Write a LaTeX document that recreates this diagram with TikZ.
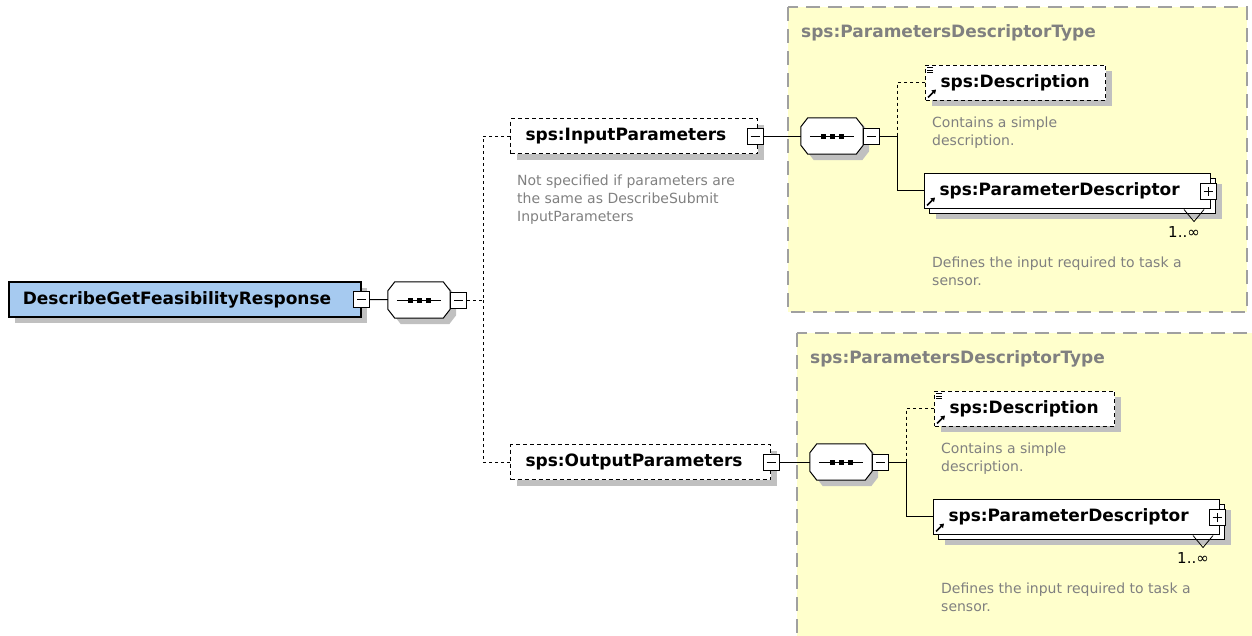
\documentclass[tikz,border=0pt]{standalone}
\usepackage{fontspec}
\setmainfont{DejaVu Sans}
\usepackage{xcolor}
\usetikzlibrary{arrows.meta, positioning, shadows, calc}

\definecolor{rootblue}{RGB}{166,202,240}
\definecolor{groupfill}{RGB}{255,255,204}
\definecolor{groupline}{RGB}{160,160,160}
\definecolor{shadowgray}{RGB}{192,192,192}
\definecolor{notegray}{RGB}{128,128,128}

% small marks inside an element box
\newcommand{\refmark}[1]{%
    \draw[line width=1.6pt, -{Triangle[length=4pt, width=5pt]}]
        ([xshift=3pt, yshift=3pt]#1.south west) -- ++(8,-8);}
\newcommand{\docmark}[1]{%
    \foreach \k in {0,2.5,5}{
        \draw[line width=0.7pt] ([xshift=2pt, yshift={-3pt-\k pt}]#1.north west) -- ++(6,0);
    }}
% octagon of a sequence compositor
\newcommand{\octpath}[1]{([xshift=7pt]#1.north west) -- ([xshift=-7pt]#1.north east)
    -- ([yshift=-9pt]#1.north east) -- ([yshift=9pt]#1.south east)
    -- ([xshift=-7pt]#1.south east) -- ([xshift=7pt]#1.south west)
    -- ([yshift=9pt]#1.south west) -- ([yshift=-9pt]#1.north west) -- cycle}
\newcommand{\seqshape}[1]{%
    \fill[shadowgray, transform canvas={shift={(6pt,-6pt)}}] \octpath{#1};
    \draw[line width=1pt, fill=white] \octpath{#1};
    \draw[line width=1pt] ([xshift=9pt]#1.west) -- ([xshift=-9pt]#1.east);
    \foreach \d in {-9,0,9}{
        \fill[black] ([xshift=\d pt]#1.center) +(-2.5,-2.5) rectangle +(2.5,2.5);
    }}

\begin{document}
\begin{tikzpicture}[
        x=1pt, y=-1pt,
        >=Stealth,
        boxbase/.style={draw, line width=1pt, fill=white, anchor=west, align=left,
            font=\bfseries\fontsize{17}{20}\selectfont,
            minimum height=35pt, inner xsep=15pt, inner ysep=0pt},
        elem/.style={boxbase,
            drop shadow={shadow xshift=6pt, shadow yshift=-6pt, fill=shadowgray, opacity=1}},
        optelem/.style={elem, dash pattern=on 4pt off 3pt},
        rootelem/.style={elem, fill=rootblue, line width=1.6pt, inner xsep=14pt},
        multielem/.style={boxbase,
            drop shadow={shadow xshift=11pt, shadow yshift=-11pt, fill=shadowgray, opacity=1},
            copy shadow={shadow xshift=5pt, shadow yshift=-5pt}},
        seqnode/.style={rectangle, minimum width=62pt, minimum height=36pt, inner sep=0pt},
        toggle/.style={draw, line width=1pt, fill=white, minimum size=16pt, inner sep=0pt},
        minus/.style={toggle,
            path picture={\draw[line width=1pt] ([xshift=3.5pt]path picture bounding box.west) -- ([xshift=-3.5pt]path picture bounding box.east);}},
        plus/.style={toggle,
            path picture={\draw[line width=1pt] ([xshift=3.5pt]path picture bounding box.west) -- ([xshift=-3.5pt]path picture bounding box.east);
                \draw[line width=1pt] ([yshift=3.5pt]path picture bounding box.south) -- ([yshift=-3.5pt]path picture bounding box.north);}},
        link/.style={line width=1pt},
        optlink/.style={line width=1pt, dash pattern=on 3pt off 3pt},
        note/.style={anchor=north west, inner sep=0pt, align=left, text=notegray,
            font=\fontsize{14}{18}\selectfont},
        count/.style={anchor=base east, inner sep=0pt, font=\fontsize{15}{18}\selectfont},
        grouptitle/.style={anchor=base west, inner sep=0pt, text=notegray,
            font=\bfseries\fontsize{17}{20}\selectfont},
        groupbox/.style={fill=groupfill, draw=groupline, line width=1.3pt, dash pattern=on 14pt off 8pt},
    ]

    % --- Canvas ---
    \path[use as bounding box] (0,0) rectangle (1252,635);
    \clip (0,0) rectangle (1252,635);

    % --- Root element and its sequence ---
    \node[rootelem, text width=324pt] (root) at (8,299.5) {DescribeGetFeasibilityResponse};
    \node[minus] (rootm) at (root.east) {};
    \node[seqnode] (seq0) at (419,300) {};
    \seqshape{seq0}
    \node[minus, anchor=west] (seq0m) at (seq0.east) {};
    \coordinate (fork0) at (483,300);

    % --- Optional children ---
    \node[optelem, text width=217pt] (inp) at (510,136) {sps:InputParameters};
    \node[minus] (inpm) at ([xshift=-3pt]inp.east) {};
    \node[note] (inpnote) at (517,174.5)
        {Not specified if parameters are\\the same as DescribeSubmit\\InputParameters};
    \node[optelem, text width=230pt] (outp) at (510,462) {sps:OutputParameters};
    \node[minus] (outm) at (outp.east) {};

    % --- ParametersDescriptorType groups ---
    \foreach \g/\gx/\gy in {in/0/0, out/9/326}{
        \begin{scope}[shift={(\gx,\gy)}]
            \path[groupbox] (788,7) rectangle (1247,312);
            \node[grouptitle] (title-\g) at (801,37) {sps:ParametersDescriptorType};

            \node[seqnode] (seq-\g) at (832,136) {};
            \seqshape{seq-\g}
            \node[minus, anchor=west] (seqm-\g) at (seq-\g.east) {};
            \coordinate (fork-\g) at (897,136);

            % Description
            \node[optelem, text width=150pt] (desc-\g) at (925,82.5) {sps:Description};
            \docmark{desc-\g}
            \refmark{desc-\g}
            \node[note] (descnote-\g) at (932,116.5) {Contains a simple\\description.};

            % ParameterDescriptor (1..unbounded)
            \node[multielem, text width=256pt] (pd-\g) at (924,190.5) {sps:ParameterDescriptor};
            \refmark{pd-\g}
            \node[plus] (pdp-\g) at ([xshift=-3pt, yshift=-1pt]pd-\g.east) {};
            \draw[line width=0.8pt] ($(pd-\g.south east)+(-27,1)$) -- ++(10,12) -- ++(10,-12);
            \node[count] (cnt-\g) at ($(pd-\g.south east)+(-11,29)$) {1..∞};
            \node[note] (pdnote-\g) at (932,256.5) {Defines the input required to task a\\sensor.};

            \draw[link] (seqm-\g) -- (fork-\g);
            \draw[optlink] (desc-\g) -| (fork-\g);
            \draw[link] (pd-\g) -| (fork-\g);
        \end{scope}
    }

    % --- Connectors ---
    \draw[link] (rootm) -- (seq0);
    \draw[optlink] (seq0m) -- (fork0);
    \draw[optlink] (inp) -| (fork0);
    \draw[optlink] (outp) -| (fork0);
    \draw[link] (inpm) -- (seq-in);
    \draw[link] (outm) -- (seq-out);

\end{tikzpicture}
\end{document}
